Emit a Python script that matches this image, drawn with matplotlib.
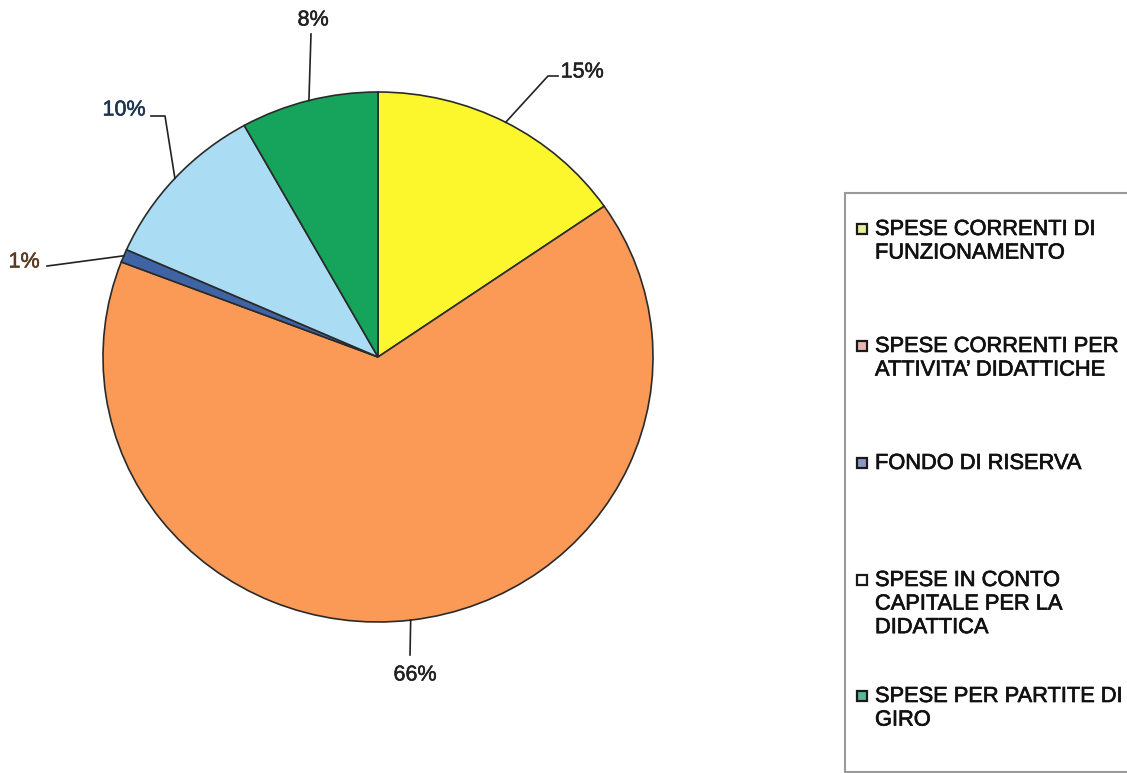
import numpy as np
import matplotlib
matplotlib.use("Agg")
import matplotlib.pyplot as plt
from matplotlib.patches import Rectangle
import matplotlib.patheffects as pe

plt.rcParams['font.family'] = ['Liberation Sans', 'DejaVu Sans']

categories = ["SPESE CORRENTI DI\nFUNZIONAMENTO",
              "SPESE CORRENTI PER\nATTIVITA' DIDATTICHE",
              "FONDO DI RISERVA",
              "SPESE IN CONTO\nCAPITALE PER LA\nDIDATTICA",
              "SPESE PER PARTITE DI\nGIRO"]
categories = [c.replace("'", "\u2019") for c in categories]
values = [15.4, 65.6, 0.8, 10.3, 8.1]
pct_labels = ["15%", "66%", "1%", "10%", "8%"]
colors = ["#FBF72C", "#FA9A56", "#3F64A6", "#AADCF3", "#16A35C"]
label_colors = ["#222222", "#222222", "#5a3a20", "#1d3550", "#222222"]
legend_face = ["#E8EE9A", "#E7B7B0", "#8C97C4", "#FFFFFF", "#58B89A"]

W, H = 1127, 773
fig = plt.figure(figsize=(W / 100, H / 100), dpi=100)

def fx(px):
    return px / W

def fy(py):
    return 1 - py / H

heavy = [pe.withStroke(linewidth=0.5, foreground="#111111")]

# pie axes: center (378,357), radii 275 x 265
cx, cy, rx, ry = 378, 357, 275, 265
ax = fig.add_axes([fx(cx - rx), fy(cy + ry), 2 * rx / W, 2 * ry / H])
wedges, _ = ax.pie(values, colors=colors, startangle=90, counterclock=False,
                   radius=1.0, center=(0, 0),
                   wedgeprops=dict(edgecolor="#2a2a2a", linewidth=1.2))
ax.set_xlim(-1, 1)
ax.set_ylim(-1, 1)
ax.set_aspect("auto")
ax.axis("off")

def to_px(x, y):
    return cx + x * rx, cy - y * ry

# label text positions (pixel) and leader-line elbows
text_pos = {0: (582, 72), 1: (415, 675), 2: (24, 262), 3: (124, 110), 4: (313, 20)}
elbows = {0: [(548, 76), (558, 76)], 1: [(410, 655)], 2: [(55, 265), (47, 266)],
          3: [(165, 116), (151, 116)], 4: [(311, 34)]}

for i, w in enumerate(wedges):
    mid = np.deg2rad((w.theta1 + w.theta2) / 2)
    ex, ey = to_px(np.cos(mid), np.sin(mid))
    pts = [(ex, ey)] + elbows[i]
    xs = [fx(p[0]) for p in pts]
    ys = [fy(p[1]) for p in pts]
    fig.add_artist(plt.Line2D(xs, ys, color="#222222", lw=1.2,
                              transform=fig.transFigure))
    tx, ty = text_pos[i]
    fig.text(fx(tx), fy(ty), pct_labels[i], ha="center", va="center",
             fontsize=15.5, color=label_colors[i],
             path_effects=[pe.withStroke(linewidth=0.4, foreground=label_colors[i])])

# legend box
fig.add_artist(Rectangle((fx(845), fy(772)), fx(1127 + 10) - fx(845),
                         fy(193) - fy(772), transform=fig.transFigure,
                         facecolor="white", edgecolor="#9a9a9a", lw=1.5))
entry_y = [229, 346, 463, 580, 696]
for i, cat in enumerate(categories):
    y = entry_y[i]
    fig.add_artist(Rectangle((fx(857), fy(y + 5)), 10 / W, 10 / H,
                             transform=fig.transFigure,
                             facecolor=legend_face[i], edgecolor="#1a1a1a", lw=1.6))
    fig.text(fx(875), fy(y - 10), cat, ha="left", va="top", fontsize=15.7,
             color="#111111", linespacing=1.16, path_effects=heavy)

fig.savefig("out.png", dpi=100)
